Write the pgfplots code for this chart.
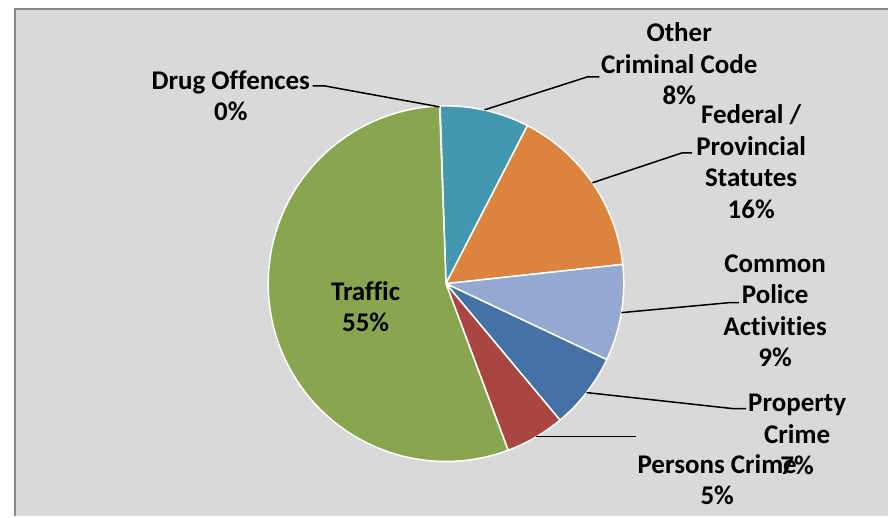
\documentclass[border=0pt]{standalone}
\usepackage{pgfplots}
\pgfplotsset{compat=1.18}
\usepackage{fontspec}
\setmainfont{Carlito}[Ligatures=NoCommon]
\definecolor{cTeal}{HTML}{4398B0}
\definecolor{cOrange}{HTML}{DC843E}
\definecolor{cLBlue}{HTML}{94A9D2}
\definecolor{cBlue}{HTML}{4471A6}
\definecolor{cRed}{HTML}{A94642}
\definecolor{cGreen}{HTML}{89A64E}
\definecolor{cPurple}{HTML}{7F63A1}
\definecolor{bgGray}{HTML}{D9D9D9}
\definecolor{bdGray}{HTML}{898989}
\begin{document}
\begin{tikzpicture}
% pie geometry (picture units = pixels)
\pgfmathsetmacro\cx{446.5}
\pgfmathsetmacro\cy{233}
\pgfmathsetmacro\R{178}
% shares in percent, clockwise from the top
\def\vOther{8.1}
\def\vFed{15.7}
\def\vCommon{8.75}
\def\vProp{6.9}
\def\vPers{5.4}
\def\vTraffic{55.1}
\def\vDrug{0.05}
\pgfmathsetmacro\aA{91.9}
\pgfmathsetmacro\aB{\aA-3.6*\vOther}
\pgfmathsetmacro\aC{\aB-3.6*\vFed}
\pgfmathsetmacro\aD{\aC-3.6*\vCommon}
\pgfmathsetmacro\aE{\aD-3.6*\vProp}
\pgfmathsetmacro\aF{\aE-3.6*\vPers}
\pgfmathsetmacro\aG{\aF-3.6*\vTraffic}
\pgfmathsetmacro\aH{\aG-3.6*\vDrug}
\begin{axis}[width=889bp, height=517bp, scale only axis,
  xmin=0, xmax=889, ymin=0, ymax=517, hide axis, clip=false]
\fill[white] (axis cs:0,0) rectangle (axis cs:889,517);
\fill[bgGray] (axis cs:15,0) rectangle (axis cs:889,508);
\draw[line width=2bp, bdGray] (axis cs:15,0) -- (axis cs:15,508) -- (axis cs:889,508);
\addplot[fill=cTeal, draw=white, line width=1.5bp, domain=\aB:\aA, samples=30]
  ({\cx+\R*cos(x)},{\cy+\R*sin(x)}) -- (axis cs:\cx,\cy) -- cycle;
\addplot[fill=cOrange, draw=white, line width=1.5bp, domain=\aC:\aB, samples=50]
  ({\cx+\R*cos(x)},{\cy+\R*sin(x)}) -- (axis cs:\cx,\cy) -- cycle;
\addplot[fill=cLBlue, draw=white, line width=1.5bp, domain=\aD:\aC, samples=30]
  ({\cx+\R*cos(x)},{\cy+\R*sin(x)}) -- (axis cs:\cx,\cy) -- cycle;
\addplot[fill=cBlue, draw=white, line width=1.5bp, domain=\aE:\aD, samples=30]
  ({\cx+\R*cos(x)},{\cy+\R*sin(x)}) -- (axis cs:\cx,\cy) -- cycle;
\addplot[fill=cRed, draw=white, line width=1.5bp, domain=\aF:\aE, samples=20]
  ({\cx+\R*cos(x)},{\cy+\R*sin(x)}) -- (axis cs:\cx,\cy) -- cycle;
\addplot[fill=cGreen, draw=white, line width=1.5bp, domain=\aG:\aF, samples=120]
  ({\cx+\R*cos(x)},{\cy+\R*sin(x)}) -- (axis cs:\cx,\cy) -- cycle;
\addplot[fill=cPurple, draw=white, line width=0.5bp, domain=\aH:\aG, samples=2]
  ({\cx+\R*cos(x)},{\cy+\R*sin(x)}) -- (axis cs:\cx,\cy) -- cycle;
% leader lines
\begin{scope}[line width=1.5bp, black]
\draw (axis cs:313,431) -- (axis cs:325,431) -- (axis cs:440,410);
\draw (axis cs:485,407) -- (axis cs:588,440) -- (axis cs:600,440);
\draw (axis cs:593,334) -- (axis cs:683,364) -- (axis cs:693,364);
\draw (axis cs:622,204) -- (axis cs:730,214) -- (axis cs:740,214);
\draw (axis cs:587,124) -- (axis cs:733,108) -- (axis cs:747,108);
\draw (axis cs:537,80) -- (axis cs:637,80);
\end{scope}
% labels
\begin{scope}[every node/.style={align=center, inner sep=0pt,
  font=\fontsize{27bp}{31.5bp}\selectfont\bfseries}]
\node at (axis cs:231,421) {Drug Offences\\0\%};
\node at (axis cs:680,453) {Other\\Criminal Code\\8\%};
\node at (axis cs:752,355) {Federal /\\Provincial\\Statutes\\16\%};
\node at (axis cs:776,206) {Common\\Police\\Activities\\9\%};
\node at (axis cs:798,82) {Property\\Crime\\7\%};
\node at (axis cs:718,37) {Persons Crime\\5\%};
\node at (axis cs:366,210) {Traffic\\55\%};
\end{scope}
\end{axis}
\end{tikzpicture}
\end{document}
